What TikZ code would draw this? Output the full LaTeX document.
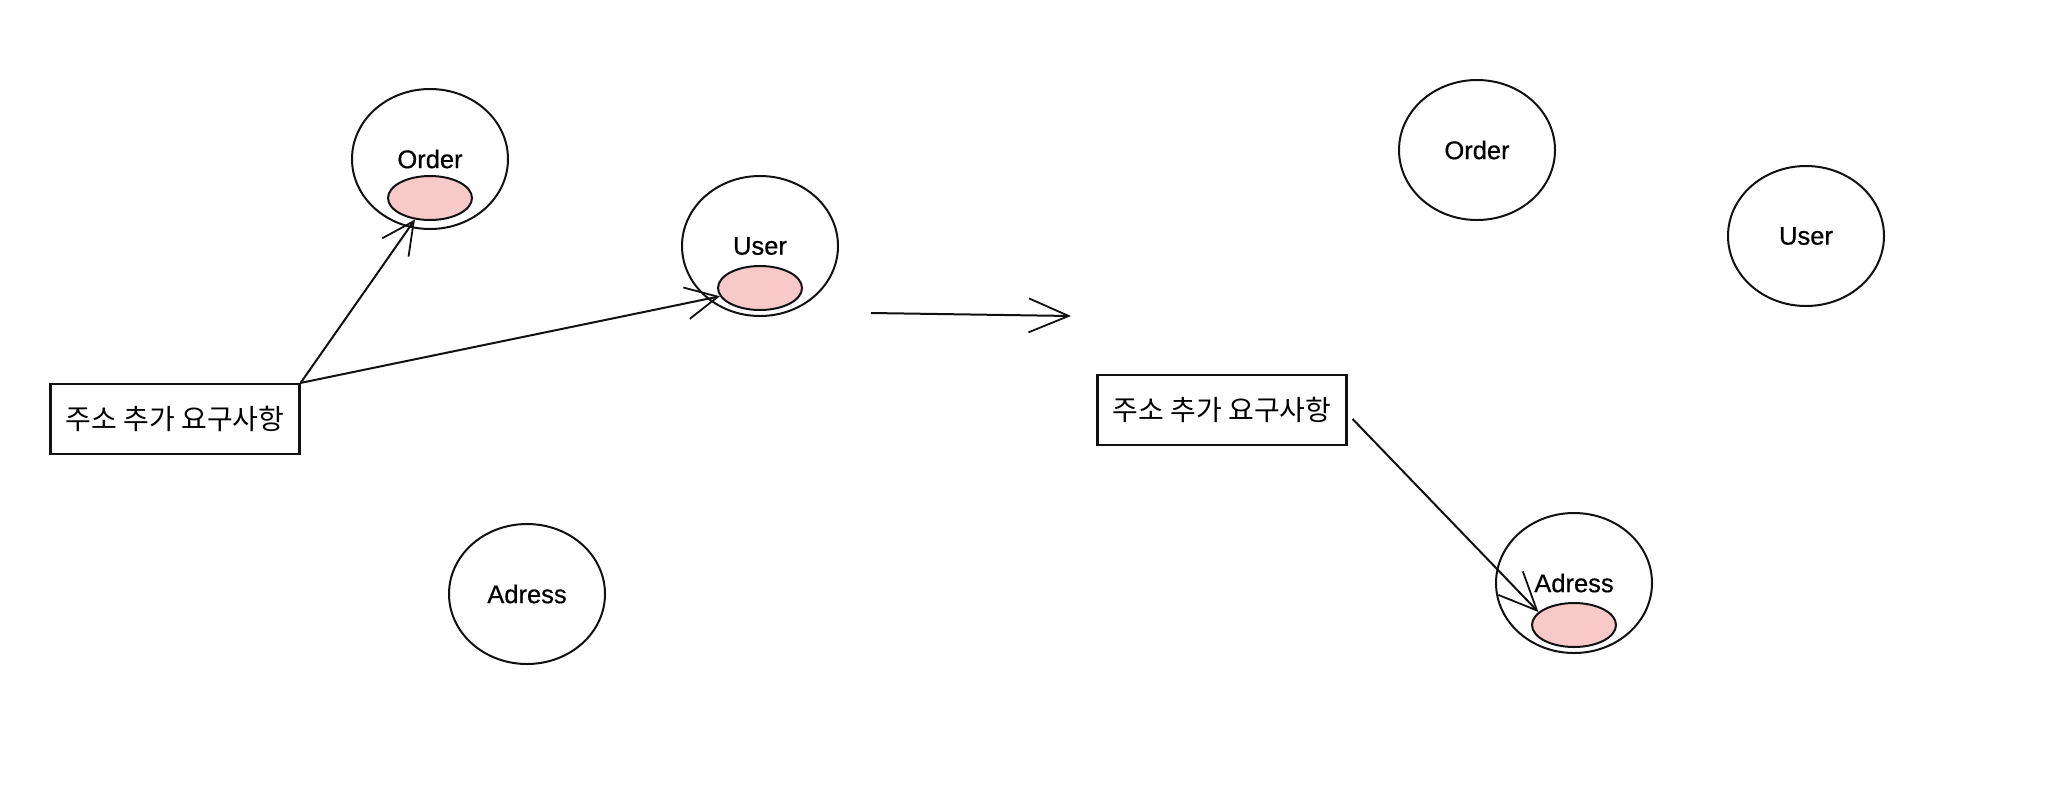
\documentclass[tikz,border=0pt]{standalone}
\usepackage{fontspec}
\setmainfont{Liberation Sans}
\newfontfamily\labelfont{Liberation Sans}[FakeBold=0.5]
\newfontfamily\krfont{Noto Sans CJK KR}
\usetikzlibrary{shapes.geometric,arrows.meta,positioning}
\definecolor{notepink}{HTML}{F8C9C9}
\definecolor{inkblack}{HTML}{111111}

\begin{document}
\begin{tikzpicture}[x=1pt,y=-1pt,
  entity/.style={draw=inkblack,line width=2pt,ellipse,minimum width=156pt,minimum height=140pt,inner sep=0pt,font=\labelfont\fontsize{25.5}{30}\selectfont},
  hotspot/.style={draw=inkblack,line width=2pt,ellipse,fill=notepink,minimum width=84pt,minimum height=44pt,inner sep=0pt},
  reqbox/.style={draw=inkblack,line width=2.2pt,minimum width=249pt,minimum height=70pt,inner sep=0pt,font=\krfont\fontsize{28}{32}\selectfont},
  arrow/.style={-{Straight Barb[length=32pt,width=32pt,line width=1.8pt]},line width=2pt,color=inkblack}
]
  \useasboundingbox (0,0) rectangle (2064,788);
  % before
  \node[entity] (O1) at (430,159) {Order};
  \node[hotspot,below=16pt of O1.center] (O1p) {};
  \node[entity] (U1) at (760,246) {User};
  \node[hotspot,below=19pt of U1.center] (U1p) {};
  \node[entity] (A1) at (527,594) {Adress};
  \node[reqbox] (R1) at (175,419) {주소 추가 요구사항};
  \draw[arrow] (R1.north east) -- (O1p);
  \draw[arrow] (R1.north east) -- (U1p);
  % transition
  \coordinate (m1) at (871,313);
  \coordinate (m2) at (1071,316);
  \draw[arrow,-{Straight Barb[length=40pt,width=34pt,line width=1.8pt]}] (m1) -- (m2);
  % after
  \node[entity] (O2) at (1477,150) {Order};
  \node[entity] (U2) at (1806,236) {User};
  \node[entity] (A2) at (1574,583) {Adress};
  \node[hotspot,below=19pt of A2.center] (A2p) {};
  \node[reqbox] (R2) at (1222,410) {주소 추가 요구사항};
  \draw[arrow,-{Straight Barb[length=38pt,width=34pt,line width=1.8pt]}] ([xshift=5pt,yshift=-9pt]R2.east) -- (A2p.160);
\end{tikzpicture}
\end{document}
